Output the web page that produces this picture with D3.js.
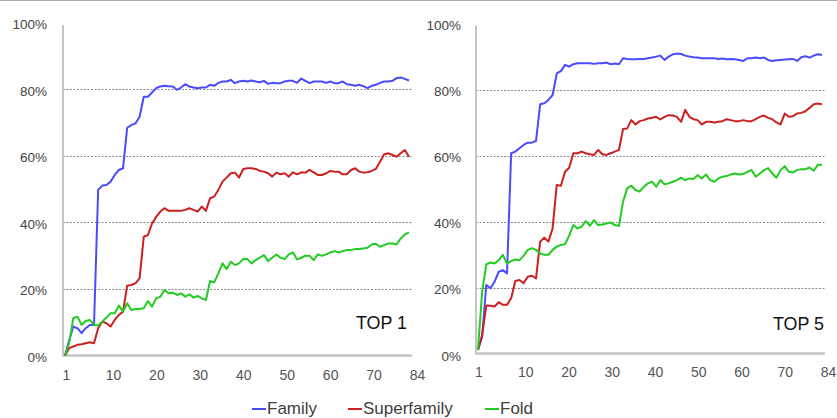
<!DOCTYPE html>
<html>
<head>
<meta charset="utf-8">
<script src="https://cdn.jsdelivr.net/npm/d3@7"></script>
<style>
  body { margin: 0; background: #fff; }
  svg text { font-family: "Liberation Sans", Arial, sans-serif; }
</style>
</head>
<body>
<svg id="chart" width="837" height="418"></svg>
<script>
// ranks 1..84 on the x axis
var ranks = d3.range(1, 85);
var xTickLabels = ["1", "10", "20", "30", "40", "50", "60", "70", "84"];
var yTicks = [0, 20, 40, 60, 80, 100];
var gridTicks = [20, 40, 60, 80];
var seriesNames = ["Family", "Superfamily", "Fold"];
var seriesColors = ["#4a4aff", "#cc2020", "#22cc22"];

var top1Family = [0, 4.5, 8.7, 8.2, 6.7, 8.2, 9.2, 9.2, 49.8, 51.1, 51.3, 52.3, 54.3, 55.8, 56.3, 68.5,
    69.3, 69.8, 71.8, 77.8, 77.8, 79.1, 80.4, 80.9, 81.1, 81.0, 80.9, 79.9, 80.6, 81.6, 80.9, 80.6,
    80.4, 80.6, 80.6, 81.4, 81.1, 82.0, 82.4, 82.4, 82.9, 81.9, 82.4, 82.6, 82.4, 82.7, 82.4, 82.2,
    82.6, 81.7, 82.0, 81.9, 81.9, 82.4, 82.6, 82.6, 82.0, 83.3, 82.6, 81.9, 82.4, 82.4, 82.4, 82.0,
    82.4, 81.9, 81.9, 82.4, 81.6, 81.4, 81.1, 81.4, 81.0, 80.4, 81.1, 81.4, 82.0, 82.4, 82.4, 82.6,
    83.4, 83.6, 83.2, 82.7];
var top1Superfamily = [0, 2.2, 2.7, 3.2, 3.4, 3.7, 4.0, 3.7, 8.2, 10.2, 9.7, 8.7, 10.7, 12.2, 13.2, 21.0,
    21.2, 21.7, 23.2, 35.7, 36.2, 39.7, 41.7, 43.3, 44.3, 43.5, 43.5, 43.5, 43.5, 43.8, 44.3, 43.8,
    43.3, 44.8, 43.5, 47.3, 47.8, 49.8, 52.3, 53.5, 54.8, 55.0, 53.5, 56.1, 56.3, 56.3, 56.1, 55.5,
    55.3, 54.8, 53.8, 55.0, 54.5, 54.8, 53.8, 55.1, 54.5, 55.1, 55.0, 55.8, 55.1, 54.3, 54.3, 54.8,
    55.5, 55.3, 55.3, 54.5, 54.5, 55.8, 56.3, 55.3, 55.0, 55.1, 55.5, 56.1, 58.3, 60.5, 60.8, 60.3,
    59.8, 60.8, 61.8, 59.8];
var top1Fold = [0, 3.7, 11.2, 11.7, 9.2, 10.4, 10.7, 9.2, 9.0, 10.2, 11.4, 12.7, 12.7, 15.0, 13.2, 15.7,
    13.7, 14.0, 14.0, 14.2, 16.4, 14.7, 17.2, 17.7, 19.7, 18.7, 18.9, 18.2, 18.7, 17.7, 18.4, 17.4,
    17.9, 17.2, 16.7, 22.4, 22.0, 24.7, 27.7, 26.0, 28.2, 27.2, 27.7, 29.0, 29.0, 27.7, 28.7, 29.4,
    30.2, 28.4, 29.4, 30.4, 29.4, 29.0, 30.4, 31.0, 28.9, 29.4, 30.0, 30.0, 28.7, 30.4, 30.0, 30.4,
    31.0, 31.4, 31.0, 31.4, 31.7, 31.7, 32.0, 32.0, 32.2, 32.4, 33.4, 33.6, 32.7, 33.2, 33.7, 33.7,
    33.4, 35.2, 36.4, 37.0];

var top5Family = [1.4, 5.4, 21.0, 20.0, 22.0, 25.0, 25.5, 24.5, 60.8, 61.3, 62.3, 63.3, 64.0, 64.0, 64.5, 75.6,
    75.9, 76.9, 78.4, 84.9, 85.6, 87.5, 87.0, 87.7, 88.0, 88.0, 88.0, 88.0, 87.8, 88.0, 88.0, 88.2,
    87.7, 87.9, 87.7, 89.5, 89.3, 89.2, 89.2, 89.3, 89.3, 89.5, 89.7, 90.0, 90.3, 89.0, 90.0, 90.7,
    90.9, 90.8, 90.3, 90.0, 89.8, 89.7, 89.5, 89.5, 89.5, 89.5, 89.3, 89.4, 89.2, 89.3, 89.2, 89.0,
    88.7, 89.5, 89.5, 89.7, 89.5, 89.7, 89.0, 88.7, 88.9, 89.0, 89.1, 89.2, 89.3, 88.7, 89.8, 90.1,
    89.7, 90.3, 90.7, 90.5];
var top5Superfamily = [1.4, 5.9, 14.8, 14.7, 14.5, 15.8, 15.0, 15.0, 17.0, 22.2, 22.5, 21.5, 23.5, 23.8, 23.0, 34.1,
    35.3, 34.1, 38.1, 51.2, 51.0, 55.2, 56.4, 60.8, 60.8, 61.3, 60.8, 60.5, 60.3, 61.8, 60.5, 60.3,
    60.8, 61.3, 61.8, 68.1, 68.3, 70.8, 69.5, 70.5, 70.8, 71.3, 71.5, 71.8, 71.0, 71.8, 72.3, 72.2,
    71.8, 70.3, 73.9, 71.8, 71.1, 70.8, 69.5, 70.3, 70.3, 70.1, 70.3, 70.5, 71.1, 70.8, 70.5, 70.5,
    70.8, 70.5, 70.5, 71.1, 71.8, 72.2, 71.5, 71.1, 70.1, 69.5, 72.8, 71.8, 72.0, 72.8, 73.0, 73.5,
    74.5, 75.6, 75.8, 75.6];
var top5Fold = [1.4, 19.0, 27.2, 27.8, 27.5, 28.5, 30.1, 27.5, 28.2, 28.7, 28.5, 29.8, 31.6, 32.1, 31.6, 30.6,
    30.1, 30.1, 31.6, 32.6, 33.1, 33.3, 35.9, 39.1, 38.1, 38.6, 40.3, 38.9, 40.6, 39.1, 39.3, 39.6,
    39.9, 39.1, 38.8, 46.2, 50.2, 51.0, 49.7, 49.2, 50.7, 51.7, 52.2, 50.7, 52.7, 51.4, 51.7, 52.2,
    52.7, 53.4, 52.7, 53.2, 53.0, 54.2, 53.2, 54.4, 52.7, 52.2, 53.2, 53.7, 53.9, 54.4, 54.7, 54.4,
    54.5, 55.2, 55.7, 53.7, 54.7, 55.7, 56.3, 54.7, 53.4, 55.7, 56.9, 55.2, 55.0, 55.7, 56.0, 56.0,
    56.5, 55.5, 57.3, 57.3];

var svg = d3.select("#chart");

// thin frame line along the top of the picture
svg.append("line")
    .attr("x1", 0).attr("x2", 837).attr("y1", 0.5).attr("y2", 0.5)
    .style("stroke", "#aaa").style("stroke-width", 1);

function drawPanel(opt) {
    var x = d3.scaleLinear().domain([1, 84]).range([opt.lineLeft, opt.lineRight]);
    var y = d3.scaleLinear().domain([0, 100]).range([opt.bottom, opt.top]);
    var xTick = d3.scalePoint().domain(xTickLabels).range([opt.tickLeft, opt.tickRight]);
    var g = svg.append("g");

    // dashed gridlines
    g.selectAll(".grid").data(gridTicks).enter().append("line")
        .attr("x1", opt.axisX).attr("x2", opt.gridRight)
        .attr("y1", function (d) { return Math.round(y(d)) + 0.5; })
        .attr("y2", function (d) { return Math.round(y(d)) + 0.5; })
        .style("stroke", "#8c8c8c").style("stroke-width", 1)
        .style("stroke-dasharray", "2,1.5");

    // y axis labels
    var yAxis = d3.axisLeft(y).tickValues(yTicks).tickSize(0).tickPadding(0)
        .tickFormat(function (d) { return d + "%"; });
    var ya = g.append("g").attr("transform", "translate(" + opt.labelRight + ",0)").call(yAxis);
    ya.select(".domain").remove();
    ya.selectAll("text")
        .attr("dy", "0.42em")
        .style("font-family", "Liberation Sans, Arial, sans-serif")
        .style("font-size", "13.5px").style("fill", "#444");

    // x axis labels (the "1" sits right at the axis start)
    var xAxis = d3.axisBottom(xTick).tickSize(0).tickPadding(0);
    var xa = g.append("g").attr("transform", "translate(0," + opt.xLabelY + ")").call(xAxis);
    xa.select(".domain").remove();
    xa.selectAll("text")
        .attr("dy", 0).attr("y", 0)
        .attr("dx", function (d, i) { return i === 0 ? -3.5 : 0; })
        .style("font-family", "Liberation Sans, Arial, sans-serif")
        .style("font-size", "14px").style("fill", "#555");

    // axis lines
    g.append("line")
        .attr("x1", opt.axisX).attr("x2", opt.axisX)
        .attr("y1", y(100) + 2).attr("y2", opt.baseline)
        .style("stroke", "#c4c4c4").style("stroke-width", 2);
    g.append("line")
        .attr("x1", opt.axisX - 1).attr("x2", opt.gridRight)
        .attr("y1", opt.baseline).attr("y2", opt.baseline)
        .style("stroke", "#c4c4c4").style("stroke-width", 2.5);

    // series lines
    var line = d3.line()
        .x(function (d, i) { return x(ranks[i]); })
        .y(function (d) { return y(d); });
    opt.series.forEach(function (s, i) {
        g.append("path")
            .datum(s)
            .attr("d", line)
            .style("fill", "none")
            .style("stroke", seriesColors[i])
            .style("stroke-width", 2)
            .style("stroke-linejoin", "round");
    });

    g.append("text")
        .attr("x", opt.titleRight).attr("y", opt.titleY)
        .attr("text-anchor", "end")
        .attr("textLength", 51).attr("lengthAdjust", "spacingAndGlyphs")
        .style("font-size", "19px").style("fill", "#111")
        .text(opt.title);
}

drawPanel({
    series: [top1Family, top1Superfamily, top1Fold],
    title: "TOP 1",
    lineLeft: 65, lineRight: 409,
    top: 23, bottom: 355.5, baseline: 355.5,
    axisX: 63, gridRight: 412, labelRight: 47,
    tickLeft: 69.5, tickRight: 417, xLabelY: 380,
    titleRight: 407, titleY: 329
});

drawPanel({
    series: [top5Family, top5Superfamily, top5Fold],
    title: "TOP 5",
    lineLeft: 478, lineRight: 822,
    top: 23.5, bottom: 354.5, baseline: 353.5,
    axisX: 476, gridRight: 825, labelRight: 461,
    tickLeft: 482, tickRight: 828, xLabelY: 377,
    titleRight: 824, titleY: 330
});

// legend
var legendX = [252, 348, 485];
var legend = svg.append("g");
seriesNames.forEach(function (name, i) {
    legend.append("line")
        .attr("x1", legendX[i]).attr("x2", legendX[i] + 14)
        .attr("y1", 409).attr("y2", 409)
        .style("stroke", seriesColors[i]).style("stroke-width", 2);
    legend.append("text")
        .attr("x", legendX[i] + 15).attr("y", 413.5)
        .style("font-size", "17px").style("fill", "#404040")
        .text(name);
});
</script>
</body>
</html>
